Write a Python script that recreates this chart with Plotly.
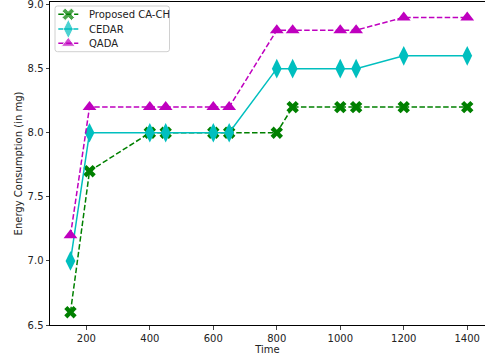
import plotly.graph_objects as go

time = [150, 210, 400, 450, 600, 650, 800, 850, 1000, 1050, 1200, 1400]
proposed = [6.6, 7.7, 8.0, 8.0, 8.0, 8.0, 8.0, 8.2, 8.2, 8.2, 8.2, 8.2]
cedar = [7.0, 8.0, 8.0, 8.0, 8.0, 8.0, 8.5, 8.5, 8.5, 8.5, 8.6, 8.6]
qada = [7.2, 8.2, 8.2, 8.2, 8.2, 8.2, 8.8, 8.8, 8.8, 8.8, 8.9, 8.9]
series_names = ["Proposed CA-CH", "CEDAR", "QADA"]
x_ticks = [200, 400, 600, 800, 1000, 1200, 1400]
y_ticks = [6.5, 7.0, 7.5, 8.0, 8.5, 9.0]

# styles
colors = ["green", "#00BFBF", "#BF00BF"]
dashes = ["5.5px,2.4px", "solid", "5.5px,2.4px"]
symbols = ["x", "diamond-tall", "triangle-up"]
msizes = [11, 14, 12]

W, H = 485, 361
L, R, T, B = 50, 0, 2, 36

fig = go.Figure()
for ys, name, c, d, s, ms in zip([proposed, cedar, qada], series_names, colors, dashes, symbols, msizes):
    fig.add_trace(go.Scatter(x=time, y=ys, name=name, mode="lines+markers",
                             line=dict(color=c, width=1.5, dash=d),
                             marker=dict(symbol=s, size=ms, color=c),
                             showlegend=False))

# custom legend drawn in pixel coordinates on an overlay axis pair
leg_x0, leg_x1, leg_y0, leg_y1 = 55, 169.5, 6, 51.7
row_y = [14.3, 29, 43.3]
sample_x = [58.3, 68.3, 78.3]
text_x = 86.7
r = 2.5
path = (f"M {leg_x0+r},{leg_y0} L {leg_x1-r},{leg_y0} Q {leg_x1},{leg_y0} {leg_x1},{leg_y0+r} "
        f"L {leg_x1},{leg_y1-r} Q {leg_x1},{leg_y1} {leg_x1-r},{leg_y1} "
        f"L {leg_x0+r},{leg_y1} Q {leg_x0},{leg_y1} {leg_x0},{leg_y1-r} "
        f"L {leg_x0},{leg_y0+r} Q {leg_x0},{leg_y0} {leg_x0+r},{leg_y0} Z")
fig.add_shape(type="path", path=path, xref="x2", yref="y2",
              line=dict(color="#d0d0d0", width=1), fillcolor="white", layer="below")
for ry, name, c, d, s, ms in zip(row_y, series_names, colors, dashes, symbols, msizes):
    fig.add_trace(go.Scatter(x=sample_x, y=[ry] * 3, xaxis="x2", yaxis="y2",
                             mode="lines+markers", showlegend=False, hoverinfo="skip",
                             line=dict(color=c, width=1.5, dash=d),
                             marker=dict(symbol=s, size=[0, ms, 0], color=c)))
    fig.add_annotation(x=text_x, y=ry, xref="x2", yref="y2", text=name, showarrow=False,
                       xanchor="left", yanchor="middle", font=dict(size=10, color="#222"))

fig.update_layout(
    width=W, height=H,
    margin=dict(l=L, r=R, t=T, b=B, autoexpand=False),
    plot_bgcolor="white", paper_bgcolor="white",
    font=dict(family="DejaVu Sans", size=10, color="#222"),
    showlegend=False,
    xaxis2=dict(overlaying="x", range=[L, W - R], visible=False, fixedrange=True),
    yaxis2=dict(overlaying="y", range=[H - B, T], visible=False, fixedrange=True),
)
fig.layout.xaxis.update(range=[85.5, 1456], tickvals=x_ticks, ticks="outside", ticklen=3.5,
                        showgrid=False, zeroline=False, showline=True, linecolor="black",
                        linewidth=1, mirror=True,
                        title=dict(text="Time", font=dict(size=10), standoff=2))
fig.layout.yaxis.update(range=[6.5, 9.02], tickvals=y_ticks, tickformat=".1f", ticks="outside",
                        ticklen=3.5, showgrid=False, zeroline=False, showline=True,
                        linecolor="black", linewidth=1, ticklabeloverflow="allow",
                        title=dict(text="Energy Consumption (in mg)", font=dict(size=10), standoff=3))

fig.write_html("out.html", config={"displayModeBar": False},
               post_script="document.body.style.margin='0';document.body.style.overflow='hidden';")
